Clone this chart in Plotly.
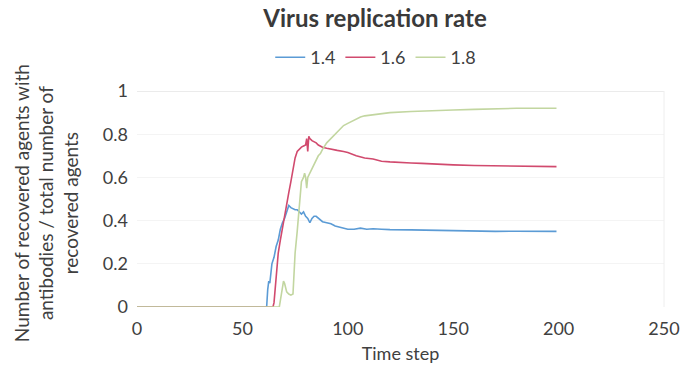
import plotly.graph_objects as go

series_names = ["1.4", "1.6", "1.8"]

t_blue = [0, 61.5, 62, 62.5, 63, 64, 65, 66, 67, 68, 69, 70, 71, 72, 73, 74, 75, 76, 77, 78, 79, 80,
          81, 82, 83, 84, 85, 86, 87, 88, 90, 92, 94, 96, 98, 100, 103, 106, 109, 112, 116, 120,
          130, 140, 150, 160, 170, 180, 190, 199]
v_blue = [0, 0, 0.08, 0.12, 0.11, 0.2, 0.23, 0.28, 0.31, 0.36, 0.39, 0.41, 0.44, 0.47, 0.46, 0.455,
          0.45, 0.45, 0.44, 0.43, 0.44, 0.42, 0.41, 0.39, 0.41, 0.42, 0.42, 0.41, 0.40, 0.395, 0.39,
          0.385, 0.375, 0.37, 0.365, 0.36, 0.36, 0.365, 0.36, 0.362, 0.36, 0.358, 0.357, 0.355,
          0.352, 0.351, 0.35, 0.351, 0.35, 0.35]

t_red = [0, 64.5, 65, 66, 67, 68, 69, 70, 71, 72, 73, 74, 75, 76, 77, 78, 79, 80, 80.5, 81, 81.5,
         82, 83, 84, 85, 86, 88, 90, 92, 95, 98, 100, 104, 108, 112, 116, 120, 125, 130, 135, 140,
         150, 160, 170, 180, 190, 199]
v_red = [0, 0, 0.02, 0.12, 0.25, 0.31, 0.37, 0.42, 0.47, 0.53, 0.58, 0.64, 0.69, 0.72, 0.73, 0.74,
         0.745, 0.75, 0.78, 0.72, 0.79, 0.78, 0.77, 0.765, 0.76, 0.75, 0.74, 0.735, 0.73, 0.725,
         0.72, 0.715, 0.70, 0.69, 0.685, 0.675, 0.672, 0.668, 0.667, 0.665, 0.662, 0.658, 0.655,
         0.654, 0.652, 0.65, 0.65]

t_green = [0, 67.5, 68, 69, 69.5, 70, 71, 72, 73, 74, 74.5, 75, 76, 77, 77.5, 78, 79, 79.5, 80,
           80.5, 81, 82, 83, 84, 85, 86, 87, 88, 90, 92, 94, 96, 98, 100, 102, 104, 106, 108, 112,
           116, 120, 130, 140, 150, 160, 170, 180, 190, 199]
v_green = [0, 0, 0.03, 0.08, 0.12, 0.11, 0.07, 0.06, 0.055, 0.06, 0.15, 0.25, 0.35, 0.45, 0.5,
           0.58, 0.6, 0.62, 0.6, 0.55, 0.6, 0.62, 0.64, 0.66, 0.68, 0.70, 0.71, 0.73, 0.76, 0.78,
           0.80, 0.82, 0.84, 0.85, 0.86, 0.87, 0.88, 0.885, 0.89, 0.895, 0.90, 0.905, 0.91, 0.912,
           0.915, 0.918, 0.92, 0.92, 0.92]

x_ticks = [0, 50, 100, 150, 200, 250]
y_ticks = [0, 0.2, 0.4, 0.6, 0.8, 1]
y_tick_text = ["0", "0.2", "0.4", "0.6", "0.8", "1"]
y_title = "Number of recovered agents with<br>antibodies / total number of<br>recovered agents"

colors = ["#5b9bd5", "#d14a6e", "#c2d6a0"]
font_family = "Lato, 'Open Sans', sans-serif"
text_color = "#404040"

fig = go.Figure()
for name, xs, ys, c in zip(series_names, [t_blue, t_red, t_green], [v_blue, v_red, v_green], colors):
    fig.add_trace(go.Scatter(x=xs, y=ys, mode="lines", name=name,
                             line=dict(color=c, width=1.6)))

fig.update_layout(
    width=692, height=373,
    margin=dict(l=137, r=23, t=91, b=66),
    paper_bgcolor="white", plot_bgcolor="white",
    font=dict(family=font_family, color=text_color, size=18),
    title=dict(text="<b>Virus replication rate</b>", x=0.542, xanchor="center",
               y=0.95, yanchor="middle", font=dict(size=24, color="#3a3a3a")),
    legend=dict(orientation="h", x=0.453, xanchor="center", y=1.155, yanchor="middle",
                font=dict(size=18), itemwidth=30, bgcolor="rgba(0,0,0,0)"),
    showlegend=True,
)
fig.update_xaxes(range=[0, 250], tickvals=x_ticks, showgrid=False, zeroline=False,
                 showline=False, ticks="", ticklabelstandoff=9,
                 title=dict(text="Time step", font=dict(size=18), standoff=9),
                 tickfont=dict(size=18))
fig.update_yaxes(range=[0, 1], tickvals=y_ticks, ticktext=y_tick_text, showgrid=True,
                 gridcolor="#f4f4f4", zeroline=False, showline=False, ticks="",
                 ticklabelstandoff=8, tickfont=dict(size=18))
fig.add_annotation(text=y_title, xref="paper", yref="paper", x=-0.173, y=0.48,
                   xanchor="center", yanchor="middle", textangle=-90, showarrow=False,
                   font=dict(size=19, color=text_color), align="center")
fig.add_shape(type="line", xref="paper", yref="y", x0=0, x1=1, y0=1, y1=1,
              line=dict(color="#d8d8d8", width=1))
fig.add_shape(type="line", xref="paper", yref="paper", x0=1, x1=1, y0=0, y1=1,
              line=dict(color="#eeeeee", width=1))

fig.write_html("out.html")
